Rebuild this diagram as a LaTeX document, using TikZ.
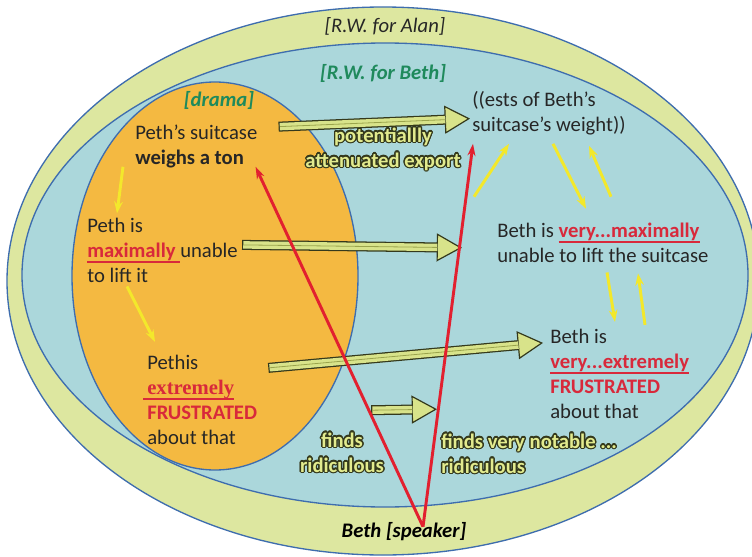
\documentclass[tikz,border=0pt]{standalone}
\usepackage{fontspec}
\usepackage{xcolor}
\usepackage{contour}
\usetikzlibrary{arrows.meta,calc}
\setmainfont{Carlito}
\newfontfamily\timesfont{Liberation Serif}
\definecolor{band}{HTML}{DDE7A0}
\definecolor{sky}{HTML}{ABD7DB}
\definecolor{drama}{HTML}{F4B941}
\definecolor{rim}{HTML}{3E6DAE}
\definecolor{ink}{HTML}{262626}
\definecolor{hotred}{HTML}{D8293B}
\definecolor{redline}{HTML}{E2202F}
\definecolor{sun}{HTML}{F3E82B}
\definecolor{fatedge}{HTML}{34391C}
\definecolor{fatfill}{HTML}{D8E38A}
\definecolor{fatline}{HTML}{9AA44C}
\definecolor{glowfill}{HTML}{E2EB8E}
\definecolor{greenlbl}{HTML}{1F8A5C}
\contourlength{1pt}
\newsavebox\ulbox
\newcommand\ulred[2][0pt]{\sbox\ulbox{#2}\kern-#1\rlap{\textcolor{hotred}{\rule[-4.2pt]{\dimexpr\wd\ulbox+#1\relax}{1.3pt}}}\kern#1\usebox\ulbox}
\newcommand\glow[1]{\contour{fatedge}{\textcolor{glowfill}{#1}}}
\newcommand\hot[1]{\textcolor{hotred}{\textbf{#1}}}

\begin{document}
\begin{tikzpicture}[x=0.75pt,y=-0.75pt,
  txt/.style={anchor=base west,align=left,inner sep=0pt,text=ink,font=\fontsize{15.5}{18.75}\selectfont},
  tag/.style={anchor=base,inner sep=0pt,font=\fontsize{15.5}{18.75}\selectfont\itshape},
  glowtxt/.style={inner sep=0pt,font=\fontsize{15.5}{18.75}\selectfont\bfseries},
  realm/.style={draw=rim,line width=1pt},
  fat/.style={draw=fatedge,line width=7.5pt,-{Triangle[length=19pt,width=21pt,line width=0.9pt,fill=fatfill]},
    postaction={draw=fatfill,line width=5.6pt,-,shorten <=0.9pt,shorten >=18.5pt},
    postaction={draw=fatline,line width=0.6pt,-,shorten <=0.9pt,shorten >=18.5pt}},
  sunarr/.style={sun,line width=2.2pt,-{Stealth[length=9pt,width=6.5pt]}},
  redarr/.style={redline,line width=2.2pt,-{Stealth[length=9pt,width=6pt]}}]
\useasboundingbox (0,0) rectangle (752,556);
% worlds
\draw[realm,fill=band] (383,281) ellipse [x radius=376,y radius=274];
\draw[realm,fill=sky] (385,275) ellipse [x radius=363,y radius=232];
\draw[realm,fill=drama] (215,276) ellipse [x radius=143,y radius=194];
\node[tag,text=ink] (alan) at (385,33) {[R.W. for Alan]};
\node[tag,text=greenlbl,font=\fontsize{15.5}{18.75}\selectfont\bfseries\itshape] (bethw) at (383,80) {[R.W. for Beth]};
\node[tag,text=greenlbl,font=\fontsize{15.5}{18.75}\selectfont\bfseries\itshape] (dramaw) at (219,107) {[drama]};
% drama side (base = last line)
\node[txt] (suitcase) at (135,164) {Peth's suitcase\\\textbf{weighs a ton}};
\node[txt] (unable) at (87,282) {Peth is\\\ulred{\hot{maximally}\ }unable\\to lift it};
\node[txt] (pethis) at (147,444) {Pethis\\\ulred[3pt]{\hot{\timesfont extremely}}\\\hot{FRUSTRATED}\\about that};
% Beth side
\node[txt] (ests) at (472,132) {((ests of Beth's\\suitcase's weight))};
\node[txt] (bethmax) at (497,262) {Beth is \ulred{\hot{very...maximally}}\\unable to lift the suitcase};
\node[txt] (bethex) at (550,418) {Beth is\\\ulred{\hot{very...extremely}}\\\hot{FRUSTRATED}\\about that};
\node[glowtxt,anchor=base,align=center] (export) at (383,167) {\glow{potentiallly}\\\glow{attenuated export}};
\node[glowtxt,anchor=base,align=center] (finds) at (342,472) {\glow{finds}\\\glow{ridiculous}};
\node[glowtxt,anchor=base west,align=left] (findsv) at (441,473) {\glow{finds very notable ...}\\\glow{ridiculous}};
\node[tag,text=black,font=\fontsize{15.5}{18.75}\selectfont\bfseries\itshape] (speaker) at (404,537) {Beth [speaker]};
\coordinate (apex) at ($(speaker.north)+(19,5)$);
% inferences
\draw[sunarr] ($(suitcase.south west)+(-12,-1)$) -- ($(unable.north west)+(30,-4)$);
\draw[sunarr] ($(unable.south west)+(40,4)$) -- ($(pethis.north west)+(8,-12.5)$);
\draw[sunarr] ($(bethmax.north west)+(-23,-25.5)$) -- ($(ests.south west)+(37,8)$);
\draw[sunarr] ($(ests.south west)+(81,8)$) -- ($(bethmax.north west)+(89,-13.5)$);
\draw[sunarr] ($(bethmax.north west)+(114,-25.5)$) -- ($(ests.south west)+(117,10)$);
\draw[sunarr] ($(bethmax.south west)+(110,10)$) -- ($(bethex.north west)+(65,-6.5)$);
\draw[sunarr] ($(bethex.north west)+(95,-3.5)$) -- ($(bethmax.south west)+(141,11)$);
% exports
\draw[fat] ($(suitcase.north east)+(21,2.5)$) -- ($(ests.north west)+(-2,27)$);
\draw[fat] ($(unable.north east)+(4,27.5)$) -- ($(bethmax.north west)+(-35,25.5)$);
\draw[fat] ($(pethis.north east)+(11,13.5)$) -- ($(bethex.north west)+(-7,14.5)$);
\draw[fat] ($(finds.north east)+(-13,-22)$) -- ($(findsv.north west)+(-4,-24)$);
% speaker
\draw[redarr] (apex) -- ($(suitcase.south east)+(-2,-1)$);
\draw[redarr] (apex) -- ($(ests.south west)+(1,8)$);
\end{tikzpicture}
\end{document}
